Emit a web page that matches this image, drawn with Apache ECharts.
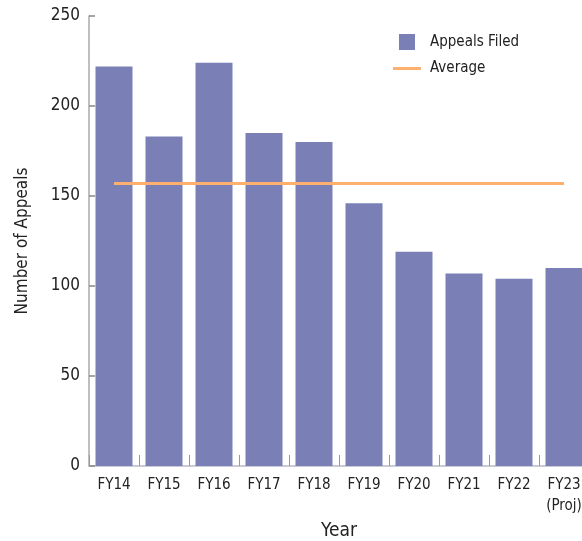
<!DOCTYPE html>
<html>
<head>
<meta charset="utf-8">
<script src="https://cdn.jsdelivr.net/npm/echarts@6/dist/echarts.min.js"></script>
<style>
  html, body { margin: 0; padding: 0; background: #fff; }
  #main { width: 582px; height: 541px; }
</style>
</head>
<body>
<div id="main"></div>
<script>
  // data
  var years = ['FY14', 'FY15', 'FY16', 'FY17', 'FY18', 'FY19', 'FY20', 'FY21', 'FY22', 'FY23\n(Proj)'];
  var appealsFiled = [222, 183, 224, 185, 180, 146, 119, 107, 104, 110];
  var averageLine = [157, 157, 157, 157, 157, 157, 157, 157, 157, 157];
  var yTicks = [0, 50, 100, 150, 200, 250];

  var font = '"Liberation Sans Narrow", "DejaVu Sans Condensed", "Roboto", sans-serif';
  var myChart = echarts.init(document.getElementById('main'));

  var option = {
    textStyle: { fontFamily: font },
    animation: false,
    grid: {
      left: 89,
      top: 16,
      width: 500,
      bottom: 75,
      containLabel: false,
      outerBoundsMode: 'none'
    },
    legend: {
      orient: 'vertical',
      left: 388,
      top: 29,
      itemWidth: 28,
      itemHeight: 16,
      itemGap: 11,
      textStyle: { fontFamily: font, fontSize: 15, color: '#222', padding: [0, 0, 0, 4] },
      data: [
        { name: 'Appeals Filed', icon: 'path://M0,0H10V10H0Z' },
        { name: 'Average', icon: 'path://M0,0H28V3H0Z' }
      ]
    },
    xAxis: {
      type: 'category',
      data: years,
      name: 'Year',
      nameLocation: 'middle',
      nameGap: 49,
      nameTextStyle: { fontFamily: font, fontSize: 19, color: '#222' },
      axisLine: { lineStyle: { color: '#bbbbcc', width: 1.5 } },
      axisTick: { show: true, inside: true, length: 11, lineStyle: { color: '#999', width: 1 } },
      axisLabel: { interval: 0, fontFamily: font, fontSize: 15, color: '#222', margin: 9, lineHeight: 21 }
    },
    yAxis: {
      type: 'value',
      min: yTicks[0],
      max: yTicks[yTicks.length - 1],
      interval: 50,
      name: 'Number of Appeals',
      nameLocation: 'middle',
      nameGap: 58,
      nameTextStyle: { fontFamily: font, fontSize: 17, color: '#222' },
      splitLine: { show: false },
      axisLine: { show: true, lineStyle: { color: '#aaa', width: 1.5 } },
      axisTick: { show: true, inside: true, length: 6, lineStyle: { color: '#888', width: 1.5 } },
      axisLabel: { fontFamily: font, fontSize: 17, color: '#222', margin: 9 }
    },
    series: [
      {
        name: 'Appeals Filed',
        type: 'bar',
        data: appealsFiled,
        barCategoryGap: '26%',
        itemStyle: { color: '#7a80b6' }
      },
      {
        name: 'Average',
        type: 'line',
        data: averageLine,
        symbol: 'none',
        showSymbol: false,
        lineStyle: { color: '#ffb06e', width: 3 },
        itemStyle: { color: '#ffb06e' }
      }
    ]
  };
  myChart.setOption(option);
</script>
</body>
</html>
